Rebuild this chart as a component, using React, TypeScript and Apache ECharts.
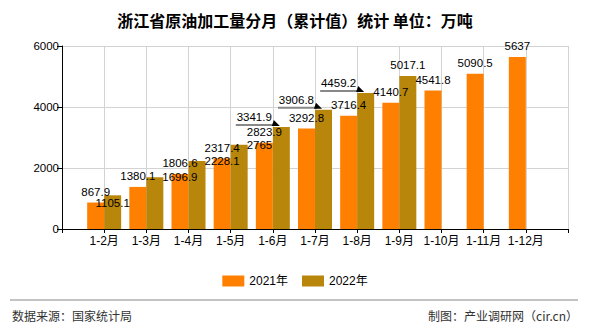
import React, { useEffect, useRef } from "react";
import * as echarts from "echarts";

const categories = ["1-2月", "1-3月", "1-4月", "1-5月", "1-6月", "1-7月", "1-8月", "1-9月", "1-10月", "1-11月", "1-12月"];
const values2021 = [867.9, 1380.1, 1806.6, 2317.4, 2823.9, 3292.8, 3716.4, 4140.7, 4541.8, 5090.5, 5637];
const values2022 = [1105.1, 1696.9, 2228.1, 2765, 3341.9, 3906.8, 4459.2, 5017.1];
const seriesNames = ["2021年", "2022年"];
const yMin = 0;
const yMax = 6000;
const yInterval = 2000;

// label placement tweaks for 2022 labels (by index into values2022)
const labelTweaks: Record<number, any> = {
  0: { position: [8.5, 8], align: "center", verticalAlign: "middle" },
  1: { position: [16, 0], align: "left", verticalAlign: "middle" },
  2: { position: [16, 0], align: "left", verticalAlign: "middle" },
  3: { position: [16, 0], align: "left", verticalAlign: "middle" },
  4: { position: [-1, -10], align: "right", verticalAlign: "middle" },
  5: { position: [-1, -10], align: "right", verticalAlign: "middle" },
  6: { position: [-1, -10], align: "right", verticalAlign: "middle" },
};
const arrowed = [4, 5, 6];

const LATIN = "'Liberation Sans', 'Noto Sans CJK SC', sans-serif";
const CJK = "'Noto Sans CJK SC', 'Liberation Sans', sans-serif";

export default function App() {
  const ref = useRef<HTMLDivElement>(null);
  useEffect(() => {
    if (!ref.current) return;
    const chart = echarts.init(ref.current, undefined, { renderer: "svg" });
    const axisCats = ["", ...categories, " "];
    const d2021 = [null, ...values2021, null];
    const d2022: any[] = [null];
    for (let i = 0; i < categories.length + 1; i++) {
      if (i < values2022.length) {
        const t = labelTweaks[i];
        d2022.push(t ? { value: values2022[i], label: t } : values2022[i]);
      } else d2022.push(null);
    }
    const labelStyle = {
      show: true,
      position: "top",
      distance: 5,
      fontFamily: LATIN,
      fontSize: 11.5,
      color: "#000",
      formatter: (p: any) => (p.value == null ? "" : String(p.value)),
    };
    chart.setOption({
      animation: false,
      backgroundColor: "#fff",
      title: {
        text: "浙江省原油加工量分月（累计值）统计 单位：万吨",
        left: "center",
        top: 7,
        textStyle: { fontFamily: CJK, fontSize: 16, fontWeight: "bold", color: "#000" },
      },
      legend: {
        data: seriesNames,
        left: "center",
        top: 270,
        itemWidth: 22,
        itemHeight: 11,
        itemGap: 14,
        icon: "rect",
        textStyle: { fontFamily: LATIN, fontSize: 12, color: "#000" },
      },
      grid: { left: 62, right: 22, top: 46, bottom: 101, containLabel: false },
      xAxis: {
        type: "category",
        data: axisCats,
        boundaryGap: false,
        axisLine: { lineStyle: { color: "#000", width: 1 } },
        axisTick: { show: true, interval: 0, length: 4, lineStyle: { color: "#000" } },
        axisLabel: { interval: 0, fontFamily: LATIN, fontSize: 12, color: "#000", margin: 6 },
        splitLine: { show: true, interval: 0, lineStyle: { color: "#d3d3d3", width: 1 } },
      },
      yAxis: {
        type: "value",
        min: yMin,
        max: yMax,
        interval: yInterval,
        axisLine: { show: true, lineStyle: { color: "#000", width: 1 } },
        axisTick: { show: true, length: 5, lineStyle: { color: "#000" } },
        axisLabel: {
          fontFamily: LATIN,
          fontSize: 11.5,
          color: "#000",
          margin: 3,
          formatter: (v: number) => String(v),
        },
        splitLine: { show: true, lineStyle: { color: "#d3d3d3", width: 1 } },
      },
      series: [
        {
          name: seriesNames[0],
          type: "bar",
          data: d2021,
          barWidth: 17,
          barGap: "0%",
          itemStyle: { color: "#FF8000" },
          label: labelStyle,
        },
        {
          name: seriesNames[1],
          type: "bar",
          data: d2022,
          barWidth: 17,
          barGap: "0%",
          itemStyle: { color: "#B8860B" },
          label: labelStyle,
        },
        {
          type: "custom",
          silent: true,
          z: 5,
          data: arrowed.map((i) => [categories[i], values2022[i]]),
          renderItem: (params: any, api: any) => {
            const p = api.coord([api.value(0), api.value(1)]);
            const x = p[0];
            const y = p[1];
            return {
              type: "group",
              children: [
                {
                  type: "line",
                  shape: { x1: x - 37, y1: y - 2, x2: x + 2, y2: y - 2 },
                  style: { stroke: "#888", lineWidth: 2 },
                },
                {
                  type: "polygon",
                  shape: { points: [[x + 1, y - 7], [x + 7, y - 1], [x - 1, y - 1]] },
                  style: { fill: "#000" },
                },
              ],
            };
          },
        },
      ],
      graphic: [
        {
          type: "line",
          shape: { x1: 10, y1: 300, x2: 578, y2: 300 },
          style: { stroke: "#888", lineWidth: 1 },
        },
        {
          type: "text",
          left: 12,
          top: 309,
          style: { text: "数据来源：国家统计局", fontFamily: CJK, fontSize: 12, fill: "#333" },
        },
        {
          type: "text",
          right: 12,
          top: 309,
          style: { text: "制图：产业调研网（cir.cn）", fontFamily: CJK, fontSize: 12, fill: "#333" },
        },
      ],
    });
    return () => chart.dispose();
  }, []);
  return (
    <div
      ref={ref}
      style={{ position: "fixed", left: 0, top: 0, width: 590, height: 330, background: "#fff" }}
    />
  );
}
